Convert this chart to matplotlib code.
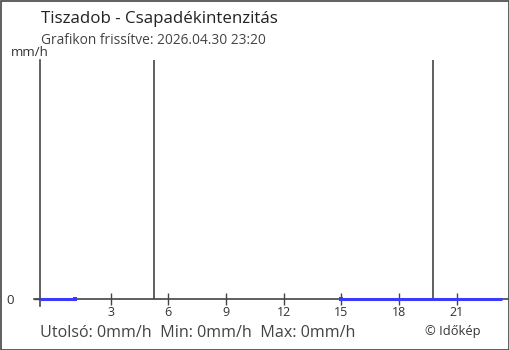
import matplotlib
matplotlib.use("Agg")
import matplotlib.pyplot as plt
from matplotlib.patches import Rectangle
import numpy as np

# Data (hours of day; previous day 23:20 = -0.667)
times = [-0.667, 1.167, np.nan, 15.0, 23.333]
values = [0, 0, np.nan, 0, 0]
sun_lines = [5.25, 19.75]
xticks = [3, 6, 9, 12, 15, 18, 21]
xticklabels = ["3", "6", "9", "12", "15", "18", "21"]

title = "Tiszadob - Csapadékintenzitás"
subtitle = "Grafikon frissítve: 2026.04.30 23:20"
footer = "Utolsó: 0mm/h  Min: 0mm/h  Max: 0mm/h"
credit = "© Időkép"
unit = "mm/h"

W, H = 510, 350
fig = plt.figure(figsize=(W / 100, H / 100), dpi=100)
plt.rcParams['font.family'] = ['Open Sans', 'DejaVu Sans']

def fx(px):
    return px / W

def fy(py):
    return 1 - py / H

# axes: x 40..508 px, y 60..299 px
ax = fig.add_axes([fx(40), fy(299), fx(508) - fx(40), fy(60) - fy(299)])
x_left = -0.667
px_per_h = 19.23
ax.set_xlim(x_left, x_left + (508 - 40) / px_per_h)
ax.set_ylim(0, 1)
for s in ax.spines.values():
    s.set_visible(False)
ax.patch.set_visible(False)

axis_col = "#444444"
ax.plot([-6 / 468, 1.0], [0, 0], transform=ax.transAxes, color=axis_col, lw=1.2, clip_on=False)
ax.plot([0, 0], [-7 / 239, 1.0], transform=ax.transAxes, color=axis_col, lw=1.2, clip_on=False)

for s in sun_lines:
    ax.axvline(s, color=axis_col, lw=1.2)

ax.plot(times, values, color="#3b3bff", lw=2.2, solid_capstyle="butt", clip_on=False, zorder=5)
t = np.array(times, dtype=float)
v = np.array(values, dtype=float)
ax.plot(t[[1, 3]], v[[1, 3]], 's', color="#3b3bff", ms=2.2, mew=0, clip_on=False, zorder=5)

ax.set_xticks(xticks)
ax.set_xticklabels(xticklabels)
ax.tick_params(axis='x', direction='inout', length=8, width=1, color=axis_col,
               labelsize=9, labelcolor="#333333", pad=1)
ax.set_yticks([0])
ax.set_yticklabels(["0"])
ax.tick_params(axis='y', direction='out', length=4.5, width=1, color=axis_col,
               labelsize=9.5, labelcolor="#333333", pad=14)

fig.text(fx(41), fy(19), title, fontsize=12.2, color="#222222", va="center", ha="left")
fig.text(fx(41), fy(41), subtitle, fontsize=9.9, color="#444444", va="center", ha="left")
fig.text(fx(11), fy(52), unit, fontsize=9.5, color="#333333", va="center", ha="left")
fig.text(fx(40), fy(333), footer, fontsize=11.6, color="#444444", va="center", ha="left")
fig.text(fx(425), fy(331), credit, fontsize=9.3, color="#333333", va="center", ha="left")

fig.patches.append(Rectangle((0.5 / W, 0.5 / H), 1 - 1.5 / W, 1 - 1.5 / H,
                             transform=fig.transFigure, fill=False, edgecolor="#444444", lw=1.2))

fig.savefig("out.png", dpi=100)
